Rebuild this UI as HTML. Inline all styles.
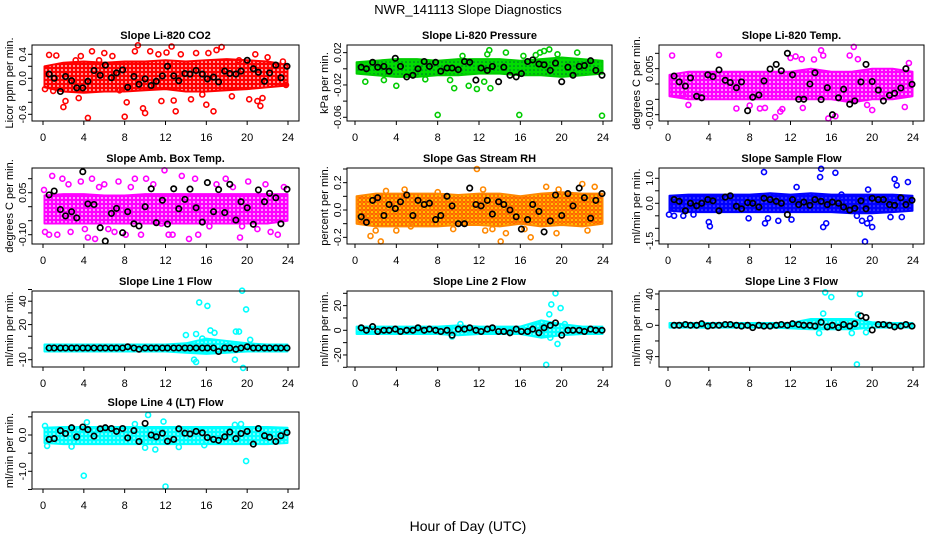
<!DOCTYPE html>
<html><head><meta charset="utf-8"><style>
html,body{margin:0;padding:0;background:#fff;}
svg{display:block;font-family:"Liberation Sans",sans-serif;}
</style></head><body>
<svg id="chart" width="936" height="540" viewBox="0 0 936 540" xmlns="http://www.w3.org/2000/svg">
<defs>
<pattern id="pat-red" width="4" height="4" patternUnits="userSpaceOnUse"><rect width="4" height="4" fill="#f00"/><circle cx="2" cy="2" r="0.9" fill="#fff"/></pattern>
<pattern id="pat-green" width="4" height="4" patternUnits="userSpaceOnUse"><rect width="4" height="4" fill="#0d0"/><circle cx="2" cy="2" r="0.8" fill="#063"/></pattern>
<pattern id="pat-magenta" width="4" height="4" patternUnits="userSpaceOnUse"><rect width="4" height="4" fill="#f0f"/><circle cx="2" cy="2" r="0.9" fill="#fff"/></pattern>
<pattern id="pat-orange" width="4" height="4" patternUnits="userSpaceOnUse"><rect width="4" height="4" fill="#fd0"/><circle cx="2" cy="2" r="1.3" fill="none" stroke="#f30" stroke-width="1"/></pattern>
<pattern id="pat-blue" width="4" height="4" patternUnits="userSpaceOnUse"><rect width="4" height="4" fill="#00f"/><circle cx="2" cy="2" r="0.8" fill="#66f"/></pattern>
<pattern id="pat-cyan" width="4" height="4" patternUnits="userSpaceOnUse"><rect width="4" height="4" fill="#0ff"/><circle cx="2" cy="2" r="0.8" fill="#fff"/></pattern>
</defs>
<text x="468" y="14" text-anchor="middle" font-size="13">NWR_141113  Slope Diagnostics</text>
<text x="468" y="531" text-anchor="middle" font-size="14">Hour of Day (UTC)</text>
<g id="panels"></g>
</svg>
<script>
// ---- shared sample hours for black (hourly-mean) points ----
const blackHours = [0.6,1.1,1.7,2.2,2.8,3.3,3.9,4.4,5.0,5.6,6.1,6.7,7.2,7.8,8.3,8.9,9.4,10.0,10.6,11.1,11.7,12.2,12.8,13.3,13.9,14.4,15.0,15.6,16.1,16.7,17.2,17.8,18.3,18.9,19.4,20.0,20.6,21.1,21.7,22.2,22.8,23.3,23.9];
const bandHours = [0,2,4,6,8,10,12,14,16,18,20,22,24];
const xTicks = [0,4,8,12,16,20,24];

// ---- P1 CO2 ----
const co2Black = [0.07,0.0,-0.22,0.03,-0.04,-0.16,-0.16,-0.05,0.13,0.05,0.22,0.01,0.09,0.14,-0.15,0.03,-0.1,-0.01,-0.12,-0.05,0.04,0.2,0.04,-0.04,0.08,0.07,0.13,0.07,-0.01,0.02,-0.06,0.12,0.08,0.07,0.12,0.3,0.16,0.1,-0.05,0.09,0.22,0.01,0.2];
const co2BandTop = [0.2,0.26,0.28,0.26,0.28,0.28,0.3,0.28,0.3,0.32,0.3,0.28,0.22];
const co2BandBot = [-0.15,-0.22,-0.24,-0.22,-0.22,-0.2,-0.18,-0.22,-0.22,-0.2,-0.18,-0.15,-0.12];
const co2OutHrs = [0.2,0.6,1.0,1.3,2.0,2.2,3.2,3.5,3.7,4.4,4.8,5.5,6.0,6.8,7.5,8.0,8.2,9.0,9.3,9.8,10.0,10.5,11.3,11.6,12.1,12.6,12.8,13.0,13.5,14.5,15.0,15.6,16.0,16.2,16.7,17.0,17.5,18.5,19.2,20.2,20.8,21.0,21.3,21.5,22.0,23.5,23.8];
const co2OutVals = [-0.18,0.39,-0.21,0.38,-0.48,-0.38,0.3,-0.33,0.37,-0.66,0.45,0.3,0.42,0.37,-0.2,-0.64,-0.4,0.45,0.55,-0.5,-0.58,0.45,0.4,-0.38,0.43,0.53,-0.37,-0.55,0.4,-0.35,0.42,-0.27,-0.44,0.42,-0.55,0.47,0.52,-0.3,0.3,-0.35,0.4,-0.38,-0.46,-0.33,0.35,0.28,-0.11];

// ---- P2 Pressure ----
const presBlack = [0.002,0.0,0.008,0.002,0.003,-0.003,0.013,0.003,-0.01,-0.008,0.0,0.009,0.003,0.008,-0.003,0.001,0.001,-0.001,0.009,0.008,-0.014,0.001,-0.002,0.003,-0.016,0.002,-0.008,-0.01,-0.006,0.009,0.011,0.006,0.005,-0.002,0.007,-0.016,0.002,-0.008,0.003,0.004,0.01,-0.002,-0.008];
const presBandTop = [0.008,0.01,0.012,0.012,0.01,0.012,0.012,0.012,0.01,0.012,0.014,0.012,0.01];
const presBandBot = [-0.006,-0.008,-0.01,-0.01,-0.008,-0.008,-0.006,-0.006,-0.008,-0.008,-0.01,-0.008,-0.006];
const presOutHrs = [1.0,2.8,4.0,6.8,8.0,9.2,9.6,10.4,11.0,11.8,12.5,12.8,13.1,13.0,14.6,15.9,16.3,17.5,17.9,18.3,18.8,19.6,21.5,23.9];
const presOutVals = [-0.016,-0.014,-0.021,-0.013,-0.057,-0.014,-0.024,0.016,-0.021,-0.025,-0.016,0.018,-0.024,0.023,0.02,-0.057,0.016,0.017,0.02,0.022,0.024,0.018,0.02,-0.058];

// ---- P3 Li-820 Temp ----
const tempBlack = [0.0026,0.0007,-0.0007,0.002,-0.004,-0.0045,0.003,0.0024,0.0046,0.0012,0.0005,-0.0012,0.0007,-0.0087,-0.0043,-0.0036,0.001,0.0049,0.0064,0.0043,0.01,0.003,-0.005,-0.005,0.0,0.0037,-0.0051,-0.0012,-0.01,-0.0045,-0.0017,-0.0066,-0.0055,0.0007,0.0064,0.0008,-0.002,-0.0055,-0.0037,-0.003,-0.0013,0.005,-0.0001];
const tempBandTop = [0.003,0.004,0.004,0.004,0.004,0.004,0.004,0.005,0.004,0.004,0.005,0.005,0.004];
const tempBandBot = [-0.004,-0.005,-0.005,-0.005,-0.005,-0.005,-0.005,-0.005,-0.005,-0.006,-0.005,-0.005,-0.004];
const tempOutHrs = [0.4,1.5,2.0,5.0,6.7,8.0,9.0,9.5,10.5,11.0,11.2,12.0,12.5,13.1,13.2,14.3,15.0,15.2,15.7,16.4,17.8,18.2,18.6,19.5,20.0,23.2,23.6];
const tempOutVals = [0.0093,-0.0036,-0.0068,0.0095,-0.008,-0.007,-0.008,-0.0078,-0.0108,-0.009,-0.0082,0.0085,0.009,0.0081,-0.0078,0.008,0.011,0.0093,-0.0112,-0.0105,0.0093,0.0121,0.0081,-0.0068,-0.0085,-0.0075,0.0068];

// ---- P4 Amb. Box Temp ----
const ambBlack = [0.042,0.056,-0.01,-0.033,-0.018,-0.04,0.125,0.01,0.008,-0.075,-0.123,-0.024,-0.006,-0.093,-0.018,-0.061,-0.069,0.0,0.064,-0.057,0.023,-0.062,0.064,-0.007,0.026,0.063,-0.004,-0.055,0.086,-0.018,0.061,-0.021,0.08,-0.048,0.018,-0.004,-0.063,0.06,0.018,0.048,0.032,-0.061,0.062];
const ambBandTop = [0.04,0.045,0.045,0.04,0.04,0.045,0.045,0.045,0.045,0.045,0.045,0.045,0.045];
const ambBandBot = [-0.06,-0.06,-0.06,-0.06,-0.06,-0.06,-0.06,-0.06,-0.06,-0.06,-0.06,-0.06,-0.05];
const ambOutHrs = [0.1,0.2,0.6,0.9,1.4,1.9,2.5,2.7,3.7,4.1,4.4,4.8,5.1,5.5,6.0,6.4,7.0,7.4,8.1,8.6,9.0,9.6,10.1,10.8,11.6,11.9,12.3,12.7,13.6,14.3,14.9,15.2,16.3,17.0,17.9,18.6,19.3,19.5,20.1,21.0,21.8,22.3,23.0,23.6];
const ambOutVals = [0.06,-0.09,-0.1,0.11,-0.1,0.1,0.08,-0.09,0.09,-0.08,-0.11,0.1,-0.115,0.07,0.08,-0.08,-0.09,0.09,-0.1,0.07,0.1,-0.1,0.1,0.08,-0.06,0.13,-0.1,-0.1,0.11,-0.115,0.1,-0.1,-0.07,0.08,0.1,0.07,-0.11,-0.07,0.09,-0.08,0.08,-0.09,-0.1,0.07];

// ---- P5 Gas Stream RH ----
const rhBlack = [-0.05,-0.09,0.07,0.09,-0.04,0.04,0.01,0.06,0.11,-0.04,0.07,0.04,0.05,-0.07,-0.04,0.1,0.03,-0.1,-0.1,0.16,0.04,0.03,0.07,-0.03,0.06,0.04,0.0,-0.05,-0.14,-0.07,0.04,-0.01,-0.16,-0.08,0.11,-0.04,0.12,0.03,0.16,0.09,-0.06,0.07,0.12];
const rhBandTop = [0.1,0.12,0.12,0.12,0.12,0.11,0.12,0.12,0.1,0.12,0.13,0.12,0.12];
const rhBandBot = [-0.1,-0.12,-0.12,-0.12,-0.12,-0.11,-0.11,-0.12,-0.1,-0.12,-0.11,-0.12,-0.1];
const rhOutHrs = [1.5,2.0,2.5,3.0,4.0,4.8,5.4,8.0,9.5,11.8,12.4,12.6,13.3,14.1,14.6,16.4,17.0,18.5,19.5,19.7,22.0,22.5,23.2];
const rhOutVals = [-0.19,-0.15,-0.23,0.14,-0.15,0.15,-0.12,0.13,-0.14,0.3,0.15,-0.15,-0.14,-0.23,-0.17,-0.14,-0.2,0.17,-0.17,0.15,0.19,-0.15,0.17];

// ---- P6 Sample Flow ----
const sfBlack = [0.15,0.08,-0.3,0.0,-0.1,0.0,0.15,0.1,-0.3,0.25,0.3,-0.12,-0.22,0.03,0.0,-0.15,0.2,0.15,0.08,0.0,-0.45,0.15,-0.05,0.05,-0.08,0.15,0.08,-0.05,0.05,0.0,-0.15,-0.27,-0.2,0.1,-0.22,0.2,0.15,0.15,-0.05,-0.08,0.22,-0.05,0.12];
const sfBandTop = [0.3,0.35,0.35,0.35,0.35,0.4,0.35,0.4,0.35,0.35,0.35,0.35,0.3];
const sfBandBot = [-0.3,-0.35,-0.35,-0.35,-0.35,-0.35,-0.35,-0.35,-0.35,-0.4,-0.4,-0.35,-0.3];
const sfOutHrs = [0.1,0.6,1.5,2.5,4.0,4.1,7.9,9.4,9.5,9.8,10.8,12.1,12.6,15.0,14.9,15.2,15.5,16.4,17.0,18.5,19.0,19.3,19.5,19.6,20.0,19.8,21.8,22.2,22.4,22.9,23.5];
const sfOutVals = [-0.45,-0.5,-0.5,-0.45,-0.75,-0.92,-0.6,1.25,-0.8,-0.6,-0.7,-0.65,0.65,1.38,1.05,-0.95,-0.8,1.22,0.35,-0.5,-0.7,-1.53,-0.8,0.55,-0.95,-0.6,-0.55,0.97,0.72,-0.55,0.85];

// ---- P7 Line 1 Flow ----
const l1Black = [0,0,0,0,0,0,0,0,0,0,0,0,0,0,1,0,-1,0,0,0,0,0,0,0,0,0,0,0,0,0,-3,0,0,-1,0,1,0,0,0,0,0,0,0];
const l1BandTop = [3,3,3,3,3,3,3,4,8,6,4,3,3];
const l1BandBot = [-3,-3,-3,-3,-3,-3,-3,-4,-5,-4,-3,-3,-3];
const l1OutHrs = [14.0,15.0,15.3,15.6,16.1,16.4,16.8,14.8,15.0,18.8,18.9,19.2,19.5,19.6,19.9,20.3];
const l1OutVals = [11,12,39,8,36,15,13,-10,-12,-10,14,14,49,-17,33,7];

// ---- P8 Line 2 Flow ----
const l2Black = [2,0,3,-1,0,0,1,-1,0,0,2,0,1,0,-1,0,-4,1,1,2,0,-1,1,2,-1,-1,-2,1,-1,-1,1,-2,2,4,6,-4,0,0,0,-1,1,0,0];
const l2BandTop = [3,3,3,3,3,4,3,3,3,8,5,3,3];
const l2BandBot = [-3,-3,-3,-3,-3,-4,-3,-3,-3,-6,-4,-3,-3];
const l2OutHrs = [9.4,10.2,18.0,18.5,18.8,19.0,19.4,19.6,19.9,18.9,20.3];
const l2OutVals = [-5,5,6,-28,13,21,30,-11,18,-6,5];

// ---- P9 Line 3 Flow ----
const l3Black = [0,0,1,0,0,2,-1,0,0,1,1,0,-1,0,-3,0,-1,-1,0,1,0,2,1,0,0,-1,4,-2,0,-3,1,-1,2,12,10,-6,1,1,0,-2,-1,1,-1];
const l3BandTop = [3,3,3,3,3,3,3,8,8,8,4,3,3];
const l3BandBot = [-3,-3,-3,-3,-3,-3,-4,-5,-5,-5,-3,-3,-3];
const l3OutHrs = [15.4,16.0,18.8,18.5,15.2,14.8,18.0,19.4,18.6];
const l3OutVals = [42,36,40,-50,15,-10,-10,-9,14];

// ---- P10 Line 4 (LT) Flow ----
const l4Black = [-0.12,-0.1,0.12,0.04,0.2,-0.05,0.22,0.15,-0.03,0.17,0.2,0.18,0.1,0.18,-0.08,0.12,-0.18,0.32,0.0,-0.05,0.05,-0.17,-0.12,0.17,0.05,0.03,0.1,0.06,-0.07,-0.12,-0.15,-0.05,0.08,-0.1,0.04,0.1,-0.25,0.18,-0.02,-0.06,-0.18,-0.02,0.07];
const l4BandTop = [0.2,0.22,0.22,0.22,0.22,0.22,0.22,0.22,0.22,0.22,0.22,0.22,0.2];
const l4BandBot = [-0.22,-0.25,-0.25,-0.25,-0.25,-0.25,-0.25,-0.25,-0.25,-0.25,-0.25,-0.25,-0.22];
const l4OutHrs = [0.2,0.4,2.8,4.0,4.3,9.0,10.0,10.3,11.0,12.0,11.8,13.3,15.8,19.4,19.9,18.8];
const l4OutVals = [0.25,-0.3,-0.32,-1.12,0.35,0.3,-0.35,0.55,-0.4,-1.42,0.37,-0.33,-0.28,0.3,-0.72,0.28];

// ---- layout (not data) ----
const cols = [{l:32,r:299,x0:43,x24:288},{l:347,r:612,x0:355,x24:603},{l:659,r:924,x0:668,x24:913}];
const rows = [{t:45,b:121},{t:168,b:244},{t:291,b:367},{t:412,b:489}];

const panels = [
 {id:'co2',title:'Slope Li-820 CO2',ylab:'Licor ppm per min.',c:0,r:0,y0:78.3,k:60,ticks:[-0.6,-0.4,-0.2,0,0.2,0.4],labs:[[0.4,'0.4'],[0,'0.0'],[-0.6,'-0.6']],col:'#f00',pat:'pat-red',black:co2Black,top:co2BandTop,bot:co2BandBot,oh:co2OutHrs,ov:co2OutVals},
 {id:'pressure',title:'Slope Li-820 Pressure',ylab:'kPa per min.',c:1,r:0,y0:68.8,k:808,ticks:[0.02,0,-0.02,-0.04,-0.06],labs:[[0.02,'0.02'],[-0.02,'-0.02'],[-0.06,'-0.06']],col:'#0c0',pat:'pat-green',black:presBlack,top:presBandTop,bot:presBandBot,oh:presOutHrs,ov:presOutVals},
 {id:'licor-temp',title:'Slope Li-820 Temp.',ylab:'degrees C per min.',c:2,r:0,y0:84,k:3067,ticks:[0.01,0.005,0,-0.005,-0.01],labs:[[0.005,'0.005'],[-0.01,'-0.010']],col:'#f0f',pat:'pat-magenta',black:tempBlack,top:tempBandTop,bot:tempBandBot,oh:tempOutHrs,ov:tempOutVals},
 {id:'amb-box-temp',title:'Slope Amb. Box Temp.',ylab:'degrees C per min.',c:0,r:1,y0:206.7,k:280,ticks:[0.1,0.05,0,-0.05,-0.1],labs:[[0.05,'0.05'],[-0.1,'-0.10']],col:'#f0f',pat:'pat-magenta',black:ambBlack,top:ambBandTop,bot:ambBandBot,oh:ambOutHrs,ov:ambOutVals},
 {id:'gas-rh',title:'Slope Gas Stream RH',ylab:'percent per min.',c:1,r:1,y0:210,k:136.7,ticks:[0.3,0.2,0.1,0,-0.1,-0.2],labs:[[0.2,'0.2'],[0,'0.0'],[-0.2,'-0.2']],col:'#f80',pat:'pat-orange',black:rhBlack,top:rhBandTop,bot:rhBandBot,oh:rhOutHrs,ov:rhOutVals},
 {id:'sample-flow',title:'Slope Sample Flow',ylab:'ml/min per min.',c:2,r:1,y0:203.3,k:25,ticks:[1,0.5,0,-0.5,-1,-1.5],labs:[[1,'1.0'],[0,'0.0'],[-1.5,'-1.5']],col:'#00f',pat:'pat-blue',black:sfBlack,top:sfBandTop,bot:sfBandBot,oh:sfOutHrs,ov:sfOutVals},
 {id:'line1-flow',title:'Slope Line 1 Flow',ylab:'ml/min per min.',c:0,r:2,y0:348,k:1.17,ticks:[50,40,30,20,10,0,-10],labs:[[40,'40'],[20,'20'],[-10,'-10']],col:'#0ff',pat:'pat-cyan',black:l1Black,top:l1BandTop,bot:l1BandBot,oh:l1OutHrs,ov:l1OutVals},
 {id:'line2-flow',title:'Slope Line 2 Flow',ylab:'ml/min per min.',c:1,r:2,y0:330.3,k:1.233,ticks:[30,20,10,0,-10,-20,-30],labs:[[20,'20'],[0,'0'],[-20,'-20']],col:'#0ff',pat:'pat-cyan',black:l2Black,top:l2BandTop,bot:l2BandBot,oh:l2OutHrs,ov:l2OutVals},
 {id:'line3-flow',title:'Slope Line 3 Flow',ylab:'ml/min per min.',c:2,r:2,y0:325.3,k:0.783,ticks:[40,20,0,-20,-40],labs:[[40,'40'],[0,'0'],[-40,'-40']],col:'#0ff',pat:'pat-cyan',black:l3Black,top:l3BandTop,bot:l3BandBot,oh:l3OutHrs,ov:l3OutVals},
 {id:'line4-flow',title:'Slope Line 4 (LT) Flow',ylab:'ml/min per min.',c:0,r:3,y0:435,k:36.3,ticks:[0.5,0,-0.5,-1,-1.5],labs:[[0,'0.0'],[-1,'-1.0']],col:'#0ff',pat:'pat-cyan',black:l4Black,top:l4BandTop,bot:l4BandBot,oh:l4OutHrs,ov:l4OutVals}
];

const NS='http://www.w3.org/2000/svg';
function mk(tag, attrs, parent){const e=document.createElementNS(NS,tag);for(const a in attrs)e.setAttribute(a,attrs[a]);parent.appendChild(e);return e;}
const root=document.getElementById('panels');

panels.forEach(p=>{
  const C=cols[p.c], R=rows[p.r];
  const xs=h=>C.x0+(C.x24-C.x0)*h/24;
  const ys=v=>p.y0-v*p.k;
  const g=mk('g',{},root);
  
  
  const t=mk('text',{x:(C.l+C.r)/2,y:R.t-6,'text-anchor':'middle','font-size':'11','font-weight':'bold'},g);
  t.textContent=p.title;
  
  
  const yl=mk('text',{transform:`translate(${C.l-19},${(R.t+R.b)/2}) rotate(-90)`,'text-anchor':'middle','font-size':'11'},g);
  yl.textContent=p.ylab;
  
  
  // band of dense points
  let pts=[];
  bandHours.forEach((h,i)=>pts.push(xs(Math.max(0.15,Math.min(23.95,h))).toFixed(1)+','+ys(p.top[i]).toFixed(1)));
  for(let i=bandHours.length-1;i>=0;i--)pts.push(xs(Math.max(0.15,Math.min(23.95,bandHours[i]))).toFixed(1)+','+ys(p.bot[i]).toFixed(1));
  const band=mk('polygon',{points:pts.join(' '),fill:'url(#'+p.pat+')',stroke:p.col,'stroke-width':'2','stroke-linejoin':'round'},g);
  
  
  // outliers
  p.oh.forEach((h,i)=>{
    const c=mk('circle',{cx:xs(h).toFixed(1),cy:ys(p.ov[i]).toFixed(1),r:'2.5',fill:'none',stroke:p.col,'stroke-width':'1.6'},g);
    
    
  });
  // black hourly points
  blackHours.forEach((h,i)=>{
    const c=mk('circle',{cx:xs(h).toFixed(1),cy:ys(p.black[i]).toFixed(1),r:'2.7',fill:'none',stroke:'#000','stroke-width':'1.7'},g);
    
    
  });
  // box
  const box=mk('rect',{x:C.l,y:R.t,width:C.r-C.l,height:R.b-R.t,fill:'none',stroke:'#000','stroke-width':'1'},g);
  
  
  // y ticks
  p.ticks.forEach(v=>{mk('line',{x1:C.l-4,x2:C.l,y1:ys(v),y2:ys(v),stroke:'#000'},g);});
  p.labs.forEach(([v,s])=>{
    const tl=mk('text',{transform:`translate(${C.l-6},${ys(v).toFixed(1)}) rotate(-90)`,'text-anchor':'middle','font-size':'10.5'},g);
    tl.textContent=s;
    
    
  });
  // x ticks
  xTicks.forEach(h=>{
    mk('line',{x1:xs(h),x2:xs(h),y1:R.b,y2:R.b+4,stroke:'#000'},g);
    const tl=mk('text',{x:xs(h),y:R.b+20,'text-anchor':'middle','font-size':'11'},g);
    tl.textContent=String(h);
    
    
  });
});
</script>
</body></html>
